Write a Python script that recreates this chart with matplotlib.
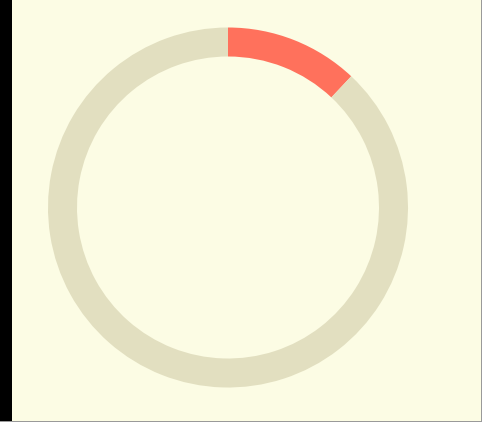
import matplotlib
matplotlib.use("Agg")
import matplotlib.pyplot as plt

# share shown in the ring (percent)
labels = ["done", "rest"]
values = [12, 88]
colors = ["#ff715c", "#e2dfc0"]

W, H = 482, 422
fig = plt.figure(figsize=(W / 100, H / 100), dpi=100)
fig.patch.set_facecolor("#fcfce4")
ax = fig.add_axes([0, 0, 1, 1])
ax.set_facecolor("#fcfce4")

# dark strip on the left edge, thin grey edge right and bottom
ax.axvspan(0, 12, color="black", lw=0)
ax.axvspan(W - 1.2, W, color="#9a9a9a", lw=0)
ax.axhspan(0, 1.2, color="#9a9a9a", lw=0)

ax.pie(
    values,
    colors=colors,
    startangle=90,
    counterclock=False,
    radius=180,
    center=(228, H - 207.5),
    wedgeprops=dict(width=29, linewidth=0),
)

ax.set_aspect("auto")
ax.set_xlim(0, W)
ax.set_ylim(0, H)
ax.axis("off")

fig.savefig("out.png", dpi=100, facecolor=fig.get_facecolor())
